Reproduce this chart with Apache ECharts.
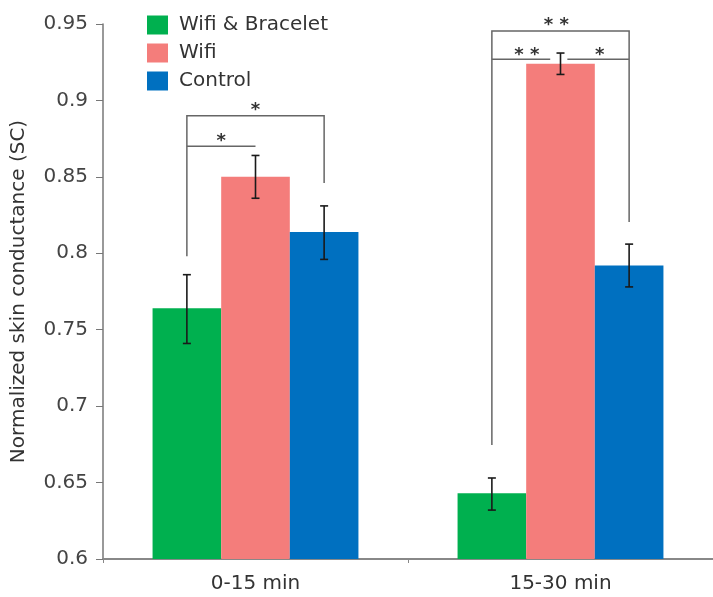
<!DOCTYPE html>
<html>
<head>
<meta charset="utf-8">
<script src="https://cdn.jsdelivr.net/npm/echarts@6/dist/echarts.min.js"></script>
<style>html,body{margin:0;padding:0;background:#fff}#c{width:713px;height:597px}</style>
</head>
<body>
<div id="c"></div>
<script>
// ---- data ----
const categories = ['0-15 min', '15-30 min'];
const seriesNames = ['Wifi & Bracelet', 'Wifi', 'Control'];
const seriesColors = ['#00B04F', '#F47D7B', '#0070C0'];
const wifiBracelet = [0.764, 0.643];
const wifi = [0.850, 0.924];
const control = [0.814, 0.792];
// error bars: [low, high] per category
const errWifiBracelet = [[0.741, 0.786], [0.632, 0.653]];
const errWifi = [[0.836, 0.864], [0.917, 0.931]];
const errControl = [[0.796, 0.831], [0.778, 0.806]];
const yTicks = [0.6, 0.65, 0.7, 0.75, 0.8, 0.85, 0.9, 0.95];
// significance brackets: [category, fromPos, toPos, lineY, leftLegEnd, rightLegEnd]
// positions in bar units: -1 = first bar, 0 = middle bar, 1 = last bar
const bracketSegments = [
  [0, -1, 1, 0.890, 0.798, 0.846],
  [0, -1, 0, 0.870, 0.870, 0.870],
  [1, -1, 1, 0.9455, 0.6746, 0.8205],
  [1, -1, -0.15, 0.927, 0.927, 0.927],
  [1, 0.1, 1, 0.927, 0.927, 0.927]
];
// stars: [category, pos, y]
const starPositions = [[0, 0, 0.896], [0, -0.5, 0.876], [1, -0.06, 0.952], [1, -0.49, 0.932], [1, 0.57, 0.932]];
const starLabels = ['*', '*', '* *', '* *', '*'];

const BAR_FRAC = 0.225;
const FONT = 'DejaVu Sans';
const values = [wifiBracelet, wifi, control];
const errs = [errWifiBracelet, errWifi, errControl];

const errData = [];
errs.forEach((e, s) => e.forEach((lh, c) => errData.push([c, lh[0], lh[1], s])));

function xAt(api, cat, pos) {
  const band = api.size([1, 0])[0];
  return api.coord([cat, 0.6])[0] + pos * band * BAR_FRAC;
}

const chart = echarts.init(document.getElementById('c'));
chart.setOption({
  animation: false,
  textStyle: { fontFamily: FONT },
  grid: { left: 103, top: 24, width: 618, height: 535 },
  legend: {
    orient: 'vertical', left: 142, top: 10, itemWidth: 21, itemHeight: 19, itemGap: 8,
    icon: 'rect', data: seriesNames,
    textStyle: { fontFamily: FONT, fontSize: 20, color: '#333', padding: [0, 0, 0, 6] }
  },
  xAxis: {
    type: 'category', data: categories,
    axisLine: { lineStyle: { color: '#888', width: 2 } },
    axisTick: { show: true, length: 4, lineStyle: { color: '#888' } },
    axisLabel: { fontFamily: FONT, fontSize: 20, color: '#333', margin: 15 }
  },
  yAxis: {
    type: 'value', min: 0.6, max: 0.95, interval: 0.05,
    name: 'Normalized skin conductance (SC)', nameLocation: 'middle', nameGap: 74,
    nameTextStyle: { fontFamily: FONT, fontSize: 20, color: '#333' },
    axisLine: { show: true, lineStyle: { color: '#777', width: 1.5 } },
    axisTick: { show: true, inside: false, length: 7, lineStyle: { color: '#777' } },
    axisLabel: {
      fontFamily: FONT, fontSize: 20, color: '#444', margin: 15,
      formatter: v => { const t = yTicks.find(k => Math.abs(k - v) < 1e-6); return t === undefined ? '' : String(t); }
    },
    splitLine: { show: false }
  },
  series: [
    ...seriesNames.map((n, i) => ({
      name: n, type: 'bar', data: values[i], barWidth: (BAR_FRAC * 100) + '%', barGap: '0%',
      itemStyle: { color: seriesColors[i] }
    })),
    {
      type: 'custom', name: 'err', data: errData, z: 5, silent: true,
      renderItem: (params, api) => {
        const x = xAt(api, api.value(0), api.value(3) - 1);
        const y1 = api.coord([0, api.value(1)])[1];
        const y2 = api.coord([0, api.value(2)])[1];
        const cap = 4;
        const st = { stroke: '#1a1a1a', lineWidth: 1.6 };
        return { type: 'group', children: [
          { type: 'line', shape: { x1: x, y1: y1, x2: x, y2: y2 }, style: st },
          { type: 'line', shape: { x1: x - cap, y1: y1, x2: x + cap, y2: y1 }, style: st },
          { type: 'line', shape: { x1: x - cap, y1: y2, x2: x + cap, y2: y2 }, style: st }
        ]};
      }
    },
    {
      type: 'custom', name: 'brackets', data: bracketSegments, z: 6, silent: true,
      renderItem: (params, api) => {
        const c = api.value(0);
        const xa = xAt(api, c, api.value(1));
        const xb = xAt(api, c, api.value(2));
        const y = api.coord([0, api.value(3)])[1];
        const yl = api.coord([0, api.value(4)])[1];
        const yr = api.coord([0, api.value(5)])[1];
        return { type: 'polyline', shape: { points: [[xa, yl], [xa, y], [xb, y], [xb, yr]] },
          style: { stroke: '#666', lineWidth: 1.5, fill: null } };
      }
    },
    {
      type: 'custom', name: 'stars', data: starPositions, z: 7, silent: true,
      renderItem: (params, api) => {
        const x = xAt(api, api.value(0), api.value(1));
        const y = api.coord([0, api.value(2)])[1];
        return { type: 'text', x: x, y: y + 4, style: { text: starLabels[params.dataIndex],
          fontFamily: FONT, fontSize: 18, fontWeight: 'bold', fill: '#333', align: 'center', verticalAlign: 'middle' } };
      }
    }
  ]
});
</script>
</body>
</html>
